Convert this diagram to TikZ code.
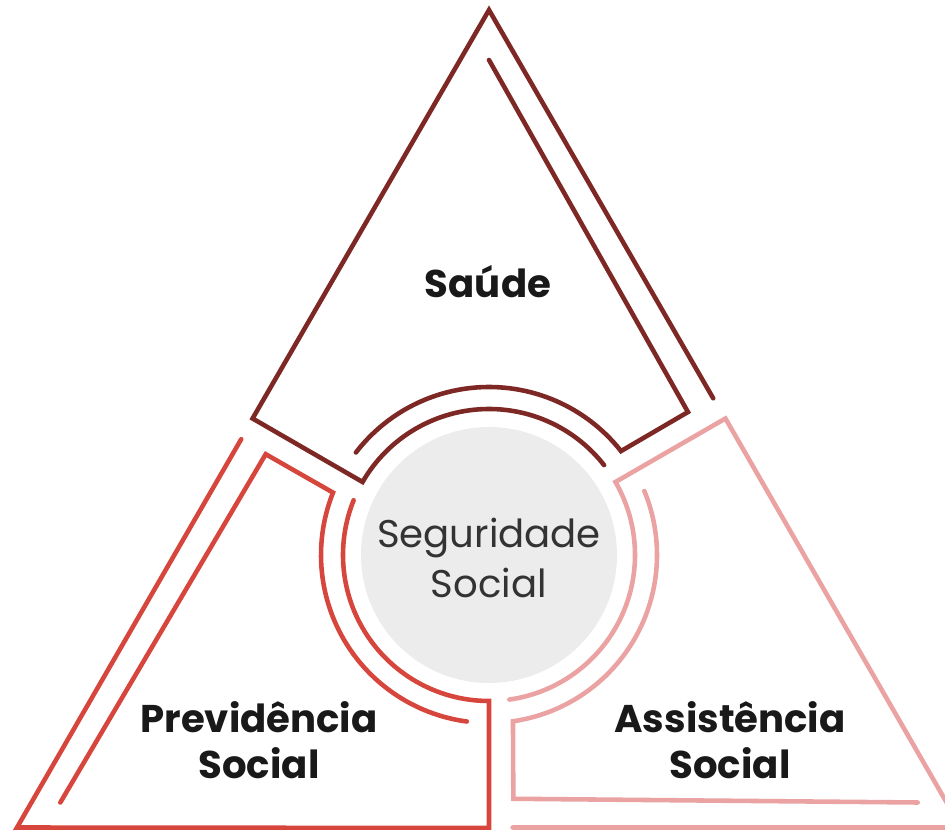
\documentclass[tikz,border=0pt]{standalone}
\usepackage{fontspec}
\setmainfont{Poppins}
\usepackage{tikz}
\usetikzlibrary{calc}

\definecolor{saude}{RGB}{125,40,36}
\definecolor{previ}{RGB}{214,70,60}
\definecolor{assist}{RGB}{234,162,162}
\definecolor{disco}{RGB}{236,236,236}

\begin{document}
\begin{tikzpicture}[x=0.02cm,y=0.02cm,line width=2.6pt,line cap=round,
  rotulo/.style={font=\bfseries\fontsize{22}{26}\selectfont,align=center,text=black!90}]
\useasboundingbox (0,0) rectangle (945,830);
\coordinate (c) at (489,275);
\fill[disco] (c) circle (128);
% os tres setores: o mesmo desenho girado de 120 graus
\foreach \ang/\cor in {0/saude,120/previ,240/assist}
{
  \begin{scope}[shift={(c)},rotate=\ang,color=\cor]
  \draw (90:495) -- (35.7:245) -- (38.2:168) arc[start angle=38.2,end angle=142.4,radius=168];
  \draw ($(90:545)!0.475!(330:545)$) -- (90:545) -- (150:273) -- (150:146)
     arc[start angle=150,end angle=38,radius=146];
  \end{scope}
}
\node[rotulo] (saude) at (488,548) {Saúde};
\node[rotulo] (previdencia) at (259,90) {Previdência\\Social};
\node[rotulo] (assistencia) at (730,90) {Assistência\\Social};
\node[font=\fontsize{22}{28}\selectfont,align=center,text=black!80] (seguridade) at (489,272) {Seguridade\\Social};
\end{tikzpicture}
\end{document}
